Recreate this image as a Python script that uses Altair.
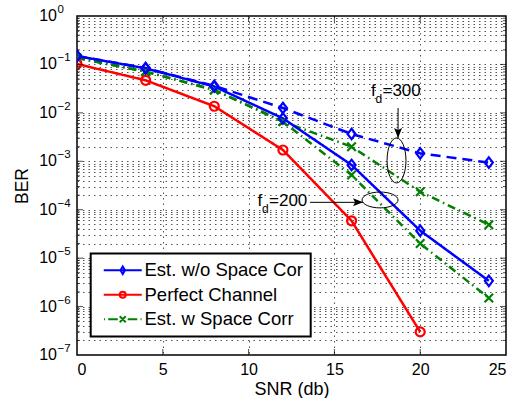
import altair as alt
import pandas as pd

FONT = "Liberation Sans"

# ---------------- data ----------------
methods = ["Est. w/o Space Cor", "Perfect Channel", "Est. w Space Corr"]
colors = ["#0000ff", "#ff0000", "#008000"]

snr = [0, 4, 8, 12, 16, 20, 24]
snr_perfect = [0, 4, 8, 12, 16, 20]
ber_wo_fd200 = [0.149, 0.083, 0.035, 0.0077, 8.4e-4, 3.7e-5, 3.4e-6]
ber_wo_fd300 = [0.150, 0.084, 0.036, 0.0126, 3.66e-3, 1.46e-3, 9.4e-4]
ber_perfect = [0.102, 0.047, 0.0137, 0.00171, 5.9e-5, 3.0e-7]
ber_w_fd200 = [0.136, 0.071, 0.0297, 0.0066, 5.2e-4, 2.0e-5, 1.5e-6]
ber_w_fd300 = [0.136, 0.071, 0.0297, 0.0066, 2.0e-3, 2.35e-4, 4.9e-5]

x_ticks = [0, 5, 10, 15, 20, 25]
x_grid = [5, 10, 15, 20]
decades = [1, 1e-1, 1e-2, 1e-3, 1e-4, 1e-5, 1e-6, 1e-7]
exponents = ["0", "\u22121", "\u22122", "\u22123", "\u22124", "\u22125", "\u22126", "\u22127"]
inner_decades = [1e-1, 1e-2, 1e-3, 1e-4, 1e-5, 1e-6]
minor_y = [m * d for d in [1e-7, 1e-6, 1e-5, 1e-4, 1e-3, 1e-2, 1e-1] for m in range(2, 10)]
grid_y = sorted(minor_y + inner_decades)

# annotations (data units)
ann_label = ["=300", "=200"]
ann_text_x = [17.13, 10.52]
ann_text_y = [0.0226, 1.22e-4]
arrow_x = [18.71, 13.58]
arrow_x2 = [18.71, 16.67]
arrow_y = [0.0126, 1.42e-4]
arrow_y2 = [0.00303, 1.42e-4]
ellipse300 = (18.62, 1.04e-3)
ellipse200 = (17.66, 1.59e-4)

# ---------------- tables ----------------
rows = []
def add(series, method, fd, xs, ys):
    for xv, yv in zip(xs, ys):
        rows.append({"series": series, "method": method, "fd": fd, "snr": xv, "ber": yv})

add("a_w200", methods[2], 200, snr, ber_w_fd200)
add("b_w300", methods[2], 300, snr, ber_w_fd300)
add("c_perf", methods[1], 0, snr_perfect, ber_perfect)
add("d_wo200", methods[0], 200, snr, ber_wo_fd200)
add("e_wo300", methods[0], 300, snr, ber_wo_fd300)
df = pd.DataFrame(rows)

legend_df = pd.DataFrame({"method": methods, "lx": [-5] * 3, "ly": [0.5] * 3})
ylab_df = pd.DataFrame({"v": decades, "exp": exponents})
ann_df = pd.DataFrame({"label": ann_label, "tx": ann_text_x, "ty": ann_text_y,
                       "ax": arrow_x, "ax2": arrow_x2, "ay": arrow_y, "ay2": arrow_y2})

# ---------------- shapes ----------------
DIAMOND = "M0,-1.05L0.8,0L0,1.05L-0.8,0Z"
CIRCLE = "M0.9,0A0.9,0.9 0 1,1 -0.9,0A0.9,0.9 0 1,1 0.9,0Z"
XMARK = "M-0.85,-0.85L0.85,0.85M-0.85,0.85L0.85,-0.85"

LEG_BLUE = "M-3.8,0H3.8M0,-0.75L0.45,0L0,0.75L-0.45,0Z"
LEG_RED = "M-3.8,0H3.8M0.6,0A0.6,0.6 0 1,1 -0.6,0A0.6,0.6 0 1,1 0.6,0Z"
LEG_GREEN = ("M-3.75,0H-3.55M-2.9,0H-1.0M1.0,0H2.9M3.55,0H3.75"
             "M-0.6,-0.6L0.6,0.6M-0.6,0.6L0.6,-0.6")

ARROW_DOWN = "M0,0L-0.4,-1L0,-0.8L0.4,-1Z"
ARROW_RIGHT = "M0,0L-1,-0.4L-0.8,0L-1,0.4Z"
ELLIPSE_V = "M0,-1A0.42,1 0 1,1 0,1A0.42,1 0 1,1 0,-1Z"
ELLIPSE_H = "M-1,0A1,0.44 0 1,1 1,0A1,0.44 0 1,1 -1,0Z"

# ---------------- scales ----------------
xscale = alt.Scale(domain=[0, 25], nice=False, zero=False)
yscale = alt.Scale(type="log", domain=[1e-7, 1], nice=False)
cscale = alt.Scale(domain=methods, range=colors)

xaxis = alt.Axis(values=x_ticks, title="SNR (db)", labelFontSize=16, labelFont=FONT,
                 titleFont=FONT, titleFontSize=18, titleFontWeight="normal",
                 titlePadding=3, labelPadding=6, ticks=False, domain=False,
                 grid=True, gridDash=[1.5, 4], gridColor="#555",
                 gridOpacity=alt.condition("datum.value == 0 || datum.value == 25",
                                           alt.value(0), alt.value(1)),
                 labelColor="black", titleColor="black")
yaxis = alt.Axis(values=grid_y, title="BER", labels=False, ticks=False, domain=False,
                 grid=True, gridDash=[1.5, 4], gridColor="#555",
                 titleFont=FONT, titleFontSize=17.5, titleFontWeight="normal",
                 titlePadding=46, titleColor="black")

X = alt.X("snr:Q", scale=xscale, axis=xaxis)
Y = alt.Y("ber:Q", scale=yscale, axis=yaxis)

dash = (alt.when((alt.datum.method == methods[0]) & (alt.datum.fd == 300))
        .then(alt.value([10, 6]))
        .when(alt.datum.method == methods[2])
        .then(alt.value([8, 4, 1.5, 4]))
        .otherwise(alt.value([1, 0])))

col = (alt.when(alt.datum.method == methods[0]).then(alt.value(colors[0]))
       .when(alt.datum.method == methods[1]).then(alt.value(colors[1]))
       .otherwise(alt.value(colors[2])))

lines = alt.Chart(df).mark_line(strokeWidth=2.5, clip=True).encode(
    x=X, y=Y,
    color=col,
    detail="series:N",
    strokeDash=dash,
)

shape = (alt.when(alt.datum.method == methods[1]).then(alt.value(CIRCLE))
         .when(alt.datum.method == methods[2]).then(alt.value(XMARK))
         .otherwise(alt.value(DIAMOND)))

markers = alt.Chart(df).mark_point(filled=False, size=100, strokeWidth=2.2, opacity=1, clip=True).encode(
    x=X, y=Y,
    color=col,
    shape=shape,
)

leg = alt.Legend(title=None, orient="none", legendX=13.7, legendY=237.5,
                 strokeColor="black", fillColor="white", padding=7.5, cornerRadius=0,
                 rowPadding=5.5, symbolOffset=15.3, labelOffset=12.5, labelLimit=400,
                 labelFontSize=18.5, labelFont=FONT, labelColor="black",
                 symbolSize=100, symbolStrokeWidth=2, symbolOpacity=1)

legend_layer = alt.Chart(legend_df).mark_point(filled=False, size=100, strokeWidth=2,
                                               opacity=1, clip=True).encode(
    x=alt.X("lx:Q", scale=xscale, axis=xaxis),
    y=alt.Y("ly:Q", scale=yscale, axis=yaxis),
    color=alt.Color("method:N", scale=cscale, legend=leg),
    shape=alt.Shape("method:N", scale=alt.Scale(domain=methods,
                                                range=[LEG_BLUE, LEG_RED, LEG_GREEN]),
                    legend=leg),
)

# y tick labels 10^k
ylab10 = alt.Chart(ylab_df).mark_text(align="right", baseline="middle", dx=-20,
                                      fontSize=16, font=FONT, color="black").encode(
    x=alt.datum(0), y=alt.Y("v:Q", scale=yscale, axis=yaxis), text=alt.value("10"))
ylabexp = alt.Chart(ylab_df).mark_text(align="left", baseline="middle", dx=-19.5, dy=-6,
                                       fontSize=11.5, font=FONT, color="black").encode(
    x=alt.datum(0), y=alt.Y("v:Q", scale=yscale, axis=yaxis), text="exp:N")

# inner ticks
def tick_layer(vals, xpos, off, length, orient):
    d = pd.DataFrame({"v": vals})
    if orient == "horizontal":
        return alt.Chart(d).mark_tick(orient="horizontal", size=length, thickness=1,
                                      color="black", xOffset=off).encode(
            x=alt.datum(xpos), y=alt.Y("v:Q", scale=yscale, axis=yaxis))
    return alt.Chart(d).mark_tick(orient="vertical", size=length, thickness=1,
                                  color="black", yOffset=off).encode(
        y=alt.datum(xpos), x=alt.X("v:Q", scale=xscale, axis=xaxis))

ticks = [
    tick_layer(inner_decades, 0, 3, 6, "horizontal"),
    tick_layer(inner_decades, 25, -3, 6, "horizontal"),
    tick_layer(minor_y, 0, 1.5, 3, "horizontal"),
    tick_layer(minor_y, 25, -1.5, 3, "horizontal"),
    tick_layer(x_grid, 1e-7, -3, 6, "vertical"),
    tick_layer(x_grid, 1, 3, 6, "vertical"),
]

# annotations
txt_f = alt.Chart(ann_df).mark_text(align="left", baseline="alphabetic", fontSize=17,
                                    font=FONT, color="black").encode(
    x=alt.X("tx:Q", scale=xscale, axis=xaxis), y=alt.Y("ty:Q", scale=yscale, axis=yaxis),
    text=alt.value("f"))
txt_d = alt.Chart(ann_df).mark_text(align="left", baseline="alphabetic", fontSize=12,
                                    font=FONT, color="black", dx=4.5, dy=7).encode(
    x=alt.X("tx:Q", scale=xscale, axis=xaxis), y=alt.Y("ty:Q", scale=yscale, axis=yaxis),
    text=alt.value("d"))
txt_eq = alt.Chart(ann_df).mark_text(align="left", baseline="alphabetic", fontSize=17,
                                     font=FONT, color="black", dx=11.5).encode(
    x=alt.X("tx:Q", scale=xscale, axis=xaxis), y=alt.Y("ty:Q", scale=yscale, axis=yaxis),
    text="label:N")
arrows = alt.Chart(ann_df).mark_rule(color="black", strokeWidth=1).encode(
    x=alt.X("ax:Q", scale=xscale, axis=xaxis), x2="ax2:Q",
    y=alt.Y("ay:Q", scale=yscale, axis=yaxis), y2="ay2:Q")
head300 = alt.Chart(ann_df.iloc[[0]]).mark_point(shape=ARROW_DOWN, size=400, filled=True,
                                                 color="black", opacity=1).encode(
    x=alt.X("ax2:Q", scale=xscale, axis=xaxis), y=alt.Y("ay2:Q", scale=yscale, axis=yaxis))
head200 = alt.Chart(ann_df.iloc[[1]]).mark_point(shape=ARROW_RIGHT, size=400, filled=True,
                                                 color="black", opacity=1).encode(
    x=alt.X("ax2:Q", scale=xscale, axis=xaxis), y=alt.Y("ay2:Q", scale=yscale, axis=yaxis))
ell300 = alt.Chart(pd.DataFrame({"x": [ellipse300[0]], "y": [ellipse300[1]]})).mark_point(
    shape=ELLIPSE_V, size=2025, filled=False, color="black", strokeWidth=1, opacity=1).encode(
    x=alt.X("x:Q", scale=xscale, axis=xaxis), y=alt.Y("y:Q", scale=yscale, axis=yaxis))
ell200 = alt.Chart(pd.DataFrame({"x": [ellipse200[0]], "y": [ellipse200[1]]})).mark_point(
    shape=ELLIPSE_H, size=1296, filled=False, color="black", strokeWidth=1, opacity=1).encode(
    x=alt.X("x:Q", scale=xscale, axis=xaxis), y=alt.Y("y:Q", scale=yscale, axis=yaxis))

chart = alt.layer(
    lines, markers, *ticks, ylab10, ylabexp,
    arrows, head300, head200, ell300, ell200, txt_f, txt_d, txt_eq,
    legend_layer,
).properties(
    width=429, height=339,
    padding={"left": 77, "top": 16, "right": 12, "bottom": 43},
    autosize=alt.AutoSizeParams(type="none"),
    background="white",
).configure_view(stroke="black", strokeWidth=1.5).configure_legend(strokeWidth=2)

chart.save("out.html", embed_options={"renderer": "svg", "actions": False})
